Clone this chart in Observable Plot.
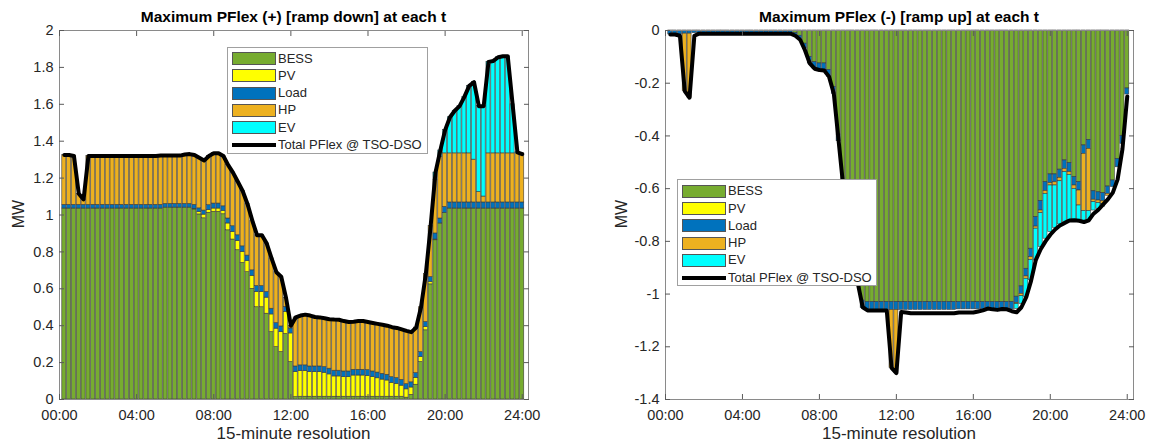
<!DOCTYPE html>
<html><head><meta charset="utf-8">
<script src="https://cdn.jsdelivr.net/npm/d3@7"></script>
<script src="https://cdn.jsdelivr.net/npm/@observablehq/plot@0.6"></script>
<style>
body{margin:0;background:#fff;font-family:Arial,"Liberation Sans",sans-serif;color:#262626;}
#wrap{position:relative;width:1153px;height:444px;overflow:hidden;background:#fff;}
.panel{position:absolute;top:0;}
.title{position:absolute;top:8px;font-weight:bold;font-size:15.5px;color:#000;white-space:nowrap;transform:translateX(-50%);line-height:18px;}
.xlab{position:absolute;top:425px;font-size:17px;white-space:nowrap;transform:translateX(-50%);line-height:18px;color:#262626;}
.ylab{position:absolute;font-size:16px;white-space:nowrap;transform:translate(-50%,-50%) rotate(-90deg);line-height:18px;color:#262626;}
.legend{position:absolute;background:#fff;border:1px solid #a0a0a0;box-sizing:border-box;}
.legend .sw{position:absolute;width:44px;height:13px;box-sizing:border-box;border:1px solid #555;}
.legend .ln{position:absolute;width:44px;height:4px;background:#000;}
.legend .tx{position:absolute;font-size:13px;line-height:16px;white-space:nowrap;color:#262626;}
</style></head>
<body><div id="wrap"></div>
<script>
// ---------- data (MW), one value per 15-minute step, steps 1..96 ----------
const seriesNames = ["BESS", "PV", "Load", "HP", "EV"];
const seriesColors = ["#77AC30", "#FFFF00", "#0072BD", "#EDB120", "#00FFFF"];
const totalName = "Total PFlex @ TSO-DSO";
const xTicks = [0, 16, 32, 48, 64, 80, 96];
const xTickLabels = ["00:00", "04:00", "08:00", "12:00", "16:00", "20:00", "24:00"];
const yTicksLeft = [0, 0.2, 0.4, 0.6, 0.8, 1, 1.2, 1.4, 1.6, 1.8, 2];
const yTicksRight = [0, -0.2, -0.4, -0.6, -0.8, -1, -1.2, -1.4];
const titleLeft = "Maximum PFlex (+) [ramp down] at each t";
const titleRight = "Maximum PFlex (-) [ramp up] at each t";
const yLabel = "MW";
const xLabel = "15-minute resolution";

// Left panel: PFlex (+)
const bessUp = [
 1.035,1.035,1.035,1.035,1.035,1.035,1.035,1.035,1.035,1.035,1.035,1.035,1.035,1.035,1.035,1.035,
 1.035,1.035,1.035,1.035,1.035,1.04,1.04,1.04,1.04,1.04,1.04,1.03,1.003,0.982,1.012,1.017,
 1.017,1.004,0.917,0.867,0.809,0.74,0.69,0.60,0.50,0.50,0.465,0.365,0.284,0.257,0.355,0.203,
 0.013,0.015,0.015,0.015,0.015,0.015,0.015,0.015,0.015,0.015,0.015,0.015,0.015,0.015,0.015,0.015,
 0.015,0.015,0.015,0.015,0.015,0.015,0.015,0.01,0.025,0.08,0.203,0.375,0.624,0.863,0.954,1.011,
 1.035,1.035,1.035,1.035,1.035,1.035,1.035,1.035,1.035,1.035,1.035,1.035,1.035,1.035,1.035,1.035];
const pvUp = [
 0,0,0,0,0,0,0,0,0,0,0,0,0,0,0,0,
 0,0,0,0,0,0,0,0,0,0,0,0.003,0.013,0.02,0.014,0.018,
 0.018,0.018,0.037,0.041,0.05,0.06,0.06,0.07,0.083,0.083,0.087,0.096,0.10,0.108,0.12,0.155,
 0.135,0.139,0.139,0.133,0.133,0.133,0.13,0.121,0.11,0.11,0.106,0.106,0.115,0.115,0.115,0.113,
 0.106,0.10,0.093,0.088,0.075,0.07,0.06,0.045,0.04,0.037,0.027,0.018,0.013,0.004,0,0,
 0,0,0,0,0,0,0,0,0,0,0,0,0,0,0,0];
const loadUp = [
 0.02,0.02,0.02,0.02,0.02,0.02,0.02,0.02,0.02,0.02,0.02,0.02,0.02,0.02,0.02,0.02,
 0.02,0.02,0.02,0.02,0.02,0.02,0.02,0.02,0.02,0.02,0.02,0.022,0.02,0.022,0.027,0.027,
 0.027,0.025,0.027,0.031,0.031,0.03,0.03,0.03,0.032,0.032,0.031,0.031,0.03,0.031,0.027,0.027,
 0.031,0.031,0.031,0.031,0.031,0.031,0.031,0.031,0.031,0.031,0.031,0.031,0.031,0.031,0.031,0.031,
 0.031,0.031,0.031,0.031,0.031,0.031,0.031,0.028,0.028,0.026,0.027,0.027,0.027,0.033,0.027,0.033,
 0.033,0.033,0.033,0.033,0.033,0.033,0.033,0.033,0.033,0.033,0.033,0.033,0.033,0.033,0.033,0.033];
const hpUp = [
 0.27,0.27,0.265,0.06,0.03,0.265,0.265,0.265,0.265,0.265,0.265,0.265,0.265,0.265,0.265,0.265,
 0.265,0.265,0.265,0.265,0.267,0.262,0.262,0.262,0.262,0.268,0.27,0.27,0.274,0.271,0.267,0.273,
 0.273,0.273,0.289,0.291,0.29,0.30,0.28,0.27,0.275,0.275,0.262,0.273,0.276,0.269,0.048,0.015,
 0.266,0.27,0.275,0.276,0.268,0.266,0.264,0.268,0.277,0.276,0.273,0.268,0.261,0.264,0.264,0.261,
 0.263,0.264,0.266,0.266,0.271,0.272,0.274,0.289,0.272,0.247,0.243,0.26,0.276,0.29,0.335,0.29,
 0.266,0.266,0.266,0.266,0.266,0.232,0.057,0.032,0.266,0.266,0.266,0.266,0.266,0.266,0.266,0.266];
const evUp = [
 0,0,0,0,0,0,0,0,0,0,0,0,0,0,0,0,
 0,0,0,0,0,0,0,0,0,0,0,0,0,0,0,0,
 0,0,0,0,0,0,0,0,0,0,0,0,0,0,0,0,
 0,0,0,0,0,0,0,0,0,0,0,0,0,0,0,0,
 0,0,0,0,0,0,0,0,0,0,0,0,0,0.04,0.034,0.126,
 0.196,0.231,0.256,0.306,0.366,0.42,0.465,0.49,0.496,0.501,0.521,0.526,0.526,0.266,0.006,0];
const totalUp = [
 1.325,1.325,1.32,1.115,1.085,1.32,1.32,1.32,1.32,1.32,1.32,1.32,1.32,1.32,1.32,1.32,
 1.32,1.32,1.32,1.32,1.322,1.322,1.322,1.322,1.322,1.328,1.33,1.325,1.31,1.295,1.32,1.335,
 1.335,1.32,1.27,1.23,1.18,1.13,1.06,0.97,0.89,0.89,0.845,0.765,0.69,0.665,0.55,0.40,
 0.445,0.455,0.46,0.455,0.447,0.445,0.44,0.435,0.433,0.432,0.425,0.42,0.422,0.425,0.425,0.42,
 0.415,0.41,0.405,0.40,0.392,0.388,0.38,0.372,0.365,0.39,0.50,0.68,0.94,1.23,1.35,1.46,
 1.53,1.565,1.59,1.64,1.70,1.72,1.59,1.59,1.83,1.835,1.855,1.86,1.86,1.60,1.34,1.33];

// Right panel: PFlex (-)
const bessDown = [
 0,0,0,0,0,0,0,0,0,0,0,0,0,0,0,0,
 0,0,0,0,0,0,0,0,0,0,-0.01,-0.02,-0.05,-0.10,-0.12,-0.125,
 -0.125,-0.15,-0.215,-0.395,-0.575,-0.695,-0.815,-0.935,-1.025,-1.03,-1.03,-1.03,-1.03,-1.03,-1.03,-1.03,
 -1.03,-1.03,-1.03,-1.03,-1.03,-1.03,-1.03,-1.03,-1.03,-1.03,-1.03,-1.03,-1.03,-1.03,-1.03,-1.03,
 -1.03,-1.03,-1.03,-1.03,-1.03,-1.03,-1.03,-1.03,-1.01,-0.971,-0.904,-0.828,-0.708,-0.647,-0.575,-0.546,
 -0.546,-0.528,-0.493,-0.503,-0.556,-0.575,-0.436,-0.415,-0.61,-0.614,-0.617,-0.592,-0.569,-0.487,-0.40,-0.22];
const pvDown = [
 0,0,0,0,0,0,0,0,0,0,0,0,0,0,0,0,
 0,0,0,0,0,0,0,0,0,0,0,0,0,0,0,0,
 0,0,0,0,0,0,0,0,0,0,0,0,0,0,0,0,
 0,0,0,0,0,0,0,0,0,0,0,0,0,0,0,0,
 0,0,0,0,0,0,0,0,0,0,0,0,0,0,0,0,
 0,0,0,0,0,0,0,0,0,0,0,0,0,0,0,0];
const loadDown = [
 -0.015,-0.015,-0.015,-0.012,-0.012,-0.01,-0.01,-0.01,-0.01,-0.01,-0.01,-0.01,-0.01,-0.01,-0.01,-0.01,
 -0.01,-0.01,-0.01,-0.01,-0.01,-0.01,-0.01,-0.01,-0.01,-0.01,-0.01,-0.012,-0.02,-0.025,-0.025,-0.025,
 -0.025,-0.025,-0.025,-0.025,-0.025,-0.025,-0.025,-0.025,-0.028,-0.03,-0.03,-0.03,-0.03,-0.03,-0.03,-0.03,
 -0.03,-0.03,-0.03,-0.03,-0.03,-0.03,-0.03,-0.03,-0.03,-0.03,-0.03,-0.03,-0.028,-0.028,-0.028,-0.028,
 -0.028,-0.028,-0.028,-0.028,-0.028,-0.028,-0.028,-0.028,-0.024,-0.028,-0.029,-0.032,-0.036,-0.036,-0.034,-0.033,
 -0.03,-0.031,-0.032,-0.034,-0.032,-0.032,-0.032,-0.034,-0.032,-0.031,-0.031,-0.028,-0.025,-0.032,-0.03,-0.023];
const hpDown = [
 0,0,0,-0.218,-0.243,0,0,0,0,0,0,0,0,0,0,0,
 0,0,0,0,0,0,0,0,0,0,0,0,0,0,0,0,
 0,0,0,0,0,0,0,0,0,0,0,0,0,0,-0.22,-0.24,
 0,0,0,0,0,0,0,0,0,0,0,0,0,0,0,0,
 0,0,0,0,0,0,0,0,-0.004,-0.009,-0.009,-0.01,-0.008,-0.01,-0.011,-0.009,
 -0.012,-0.013,-0.012,-0.011,-0.013,-0.057,-0.217,-0.236,-0.009,-0.01,-0.01,-0.007,0,0,0,0];
const evDown = [
 0,0,0,0,0,0,0,0,0,0,0,0,0,0,0,0,
 0,0,0,0,0,0,0,0,0,0,0,0,0,0,0,0,
 0,0,0,0,0,0,0,0,0,0,0,0,0,0,0,0,
 0,0,0,0,0,0,0,0,0,0,0,0,0,0,0,0,
 0,0,0,0,0,0,0,0,-0.018,-0.029,-0.07,-0.078,-0.121,-0.129,-0.17,-0.177,
 -0.161,-0.164,-0.19,-0.173,-0.12,-0.057,-0.036,-0.036,-0.032,-0.022,-0.01,0,0,0,0,0];
const totalDown = [
 -0.015,-0.015,-0.02,-0.23,-0.255,-0.02,-0.012,-0.012,-0.012,-0.012,-0.012,-0.012,-0.012,-0.012,-0.012,-0.012,
 -0.012,-0.012,-0.012,-0.012,-0.012,-0.012,-0.012,-0.012,-0.012,-0.012,-0.02,-0.035,-0.075,-0.125,-0.145,-0.15,
 -0.152,-0.175,-0.24,-0.42,-0.60,-0.72,-0.84,-0.96,-1.05,-1.062,-1.062,-1.062,-1.062,-1.062,-1.28,-1.30,
 -1.068,-1.07,-1.073,-1.073,-1.073,-1.073,-1.073,-1.073,-1.073,-1.073,-1.073,-1.073,-1.07,-1.07,-1.07,-1.07,
 -1.066,-1.062,-1.055,-1.058,-1.06,-1.057,-1.058,-1.065,-1.069,-1.05,-1.012,-0.95,-0.87,-0.83,-0.80,-0.775,
 -0.755,-0.74,-0.73,-0.721,-0.72,-0.722,-0.727,-0.72,-0.695,-0.68,-0.66,-0.64,-0.615,-0.565,-0.45,-0.25];

// ---------- build tables ----------
function stackRows(arrs) {
  const rows = [];
  const n = arrs[0].length;
  for (let i = 0; i < n; i++) {
    let pos = 0, neg = 0;
    arrs.forEach((a, j) => {
      const v = a[i];
      if (!v) return;
      if (v > 0) { rows.push({k: i + 1, s: seriesNames[j], y1: pos, y2: pos + v}); pos += v; }
      else { rows.push({k: i + 1, s: seriesNames[j], y1: neg, y2: neg + v}); neg += v; }
    });
  }
  return rows;
}
const lineRows = t => t.map((v, i) => ({k: i + 1, v}));
const fmtY = d => String(+d.toFixed(1));

function panel({rows, total, yDomain, yTicks, width, marginLeft, marginRight}) {
  const axisStyle = {stroke: "#5a5a5a"};
  return Plot.plot({
    width, height: 444,
    marginLeft, marginRight, marginTop: 30, marginBottom: 45,
    style: {fontSize: "14.5px", fontFamily: "Arial, 'Liberation Sans', sans-serif", color: "#262626", background: "transparent"},
    x: {domain: [0, 97.3]},
    y: {domain: yDomain},
    color: {domain: seriesNames, range: seriesColors},
    marks: [
      Plot.rect(rows, {x1: d => d.k - 0.42, x2: d => d.k + 0.42, y1: "y1", y2: "y2", fill: "s",
        stroke: "#3c3c3c", strokeWidth: 0.6}),
      Plot.line(lineRows(total), {x: "k", y: "v", stroke: "#000", strokeWidth: 4, strokeLinejoin: "round", strokeLinecap: "round"}),
      Plot.frame({stroke: "#8a8a8a"}),
      Plot.axisX({ticks: xTicks, tickFormat: d => xTickLabels[xTicks.indexOf(d)], tickSize: 0, tickPadding: 10, label: null, fill: "#262626"}),
      Plot.axisX({ticks: xTicks, tickFormat: () => "", tickSize: -5, label: null, ...axisStyle}),
      Plot.axisX({anchor: "top", ticks: xTicks, tickFormat: () => "", tickSize: -5, label: null, ...axisStyle}),
      Plot.axisY({ticks: yTicks, tickFormat: fmtY, tickSize: 0, tickPadding: 6, label: null, fill: "#262626"}),
      Plot.axisY({ticks: yTicks, tickFormat: () => "", tickSize: -5, label: null, ...axisStyle}),
      Plot.axisY({anchor: "right", ticks: yTicks, tickFormat: () => "", tickSize: -5, label: null, ...axisStyle})
    ]
  });
}

const wrap = document.getElementById("wrap");

const left = panel({rows: stackRows([bessUp, pvUp, loadUp, hpUp, evUp]), total: totalUp,
  yDomain: [0, 2], yTicks: yTicksLeft, width: 576, marginLeft: 59, marginRight: 48});
left.classList.add("panel"); left.style.left = "0px";
wrap.appendChild(left);

const right = panel({rows: stackRows([bessDown, pvDown, loadDown, hpDown, evDown]), total: totalDown,
  yDomain: [-1.4, 0], yTicks: yTicksRight, width: 577, marginLeft: 89, marginRight: 20});
right.classList.add("panel"); right.style.left = "576px";
wrap.appendChild(right);

function addDiv(cls, text, css) {
  const d = document.createElement("div");
  d.className = cls; d.textContent = text;
  Object.assign(d.style, css);
  wrap.appendChild(d);
  return d;
}
addDiv("title", titleLeft, {left: "293.5px"});
addDiv("title", titleRight, {left: "899px"});
addDiv("xlab", xLabel, {left: "293.5px"});
addDiv("xlab", xLabel, {left: "899px"});
addDiv("ylab", yLabel, {left: "19px", top: "214px"});
addDiv("ylab", yLabel, {left: "622px", top: "214px"});

function legend(x, y, w, h, first, step) {
  const box = document.createElement("div");
  box.className = "legend";
  Object.assign(box.style, {left: x + "px", top: y + "px", width: w + "px", height: h + "px"});
  const labels = [...seriesNames, totalName];
  labels.forEach((name, i) => {
    const cy = first + i * step - y;
    if (i < seriesNames.length) {
      const sw = document.createElement("div");
      sw.className = "sw";
      Object.assign(sw.style, {left: "4px", top: (cy - 6.5) + "px", background: seriesColors[i]});
      box.appendChild(sw);
    } else {
      const ln = document.createElement("div");
      ln.className = "ln";
      Object.assign(ln.style, {left: "4px", top: (cy - 2) + "px"});
      box.appendChild(ln);
    }
    const tx = document.createElement("div");
    tx.className = "tx"; tx.textContent = name;
    Object.assign(tx.style, {left: "50px", top: (cy - 8) + "px"});
    box.appendChild(tx);
  });
  wrap.appendChild(box);
}
legend(227, 47, 201, 107, 57.5, 17.3);
legend(677, 179, 200, 107, 190.2, 17.3);
</script>
</body></html>
